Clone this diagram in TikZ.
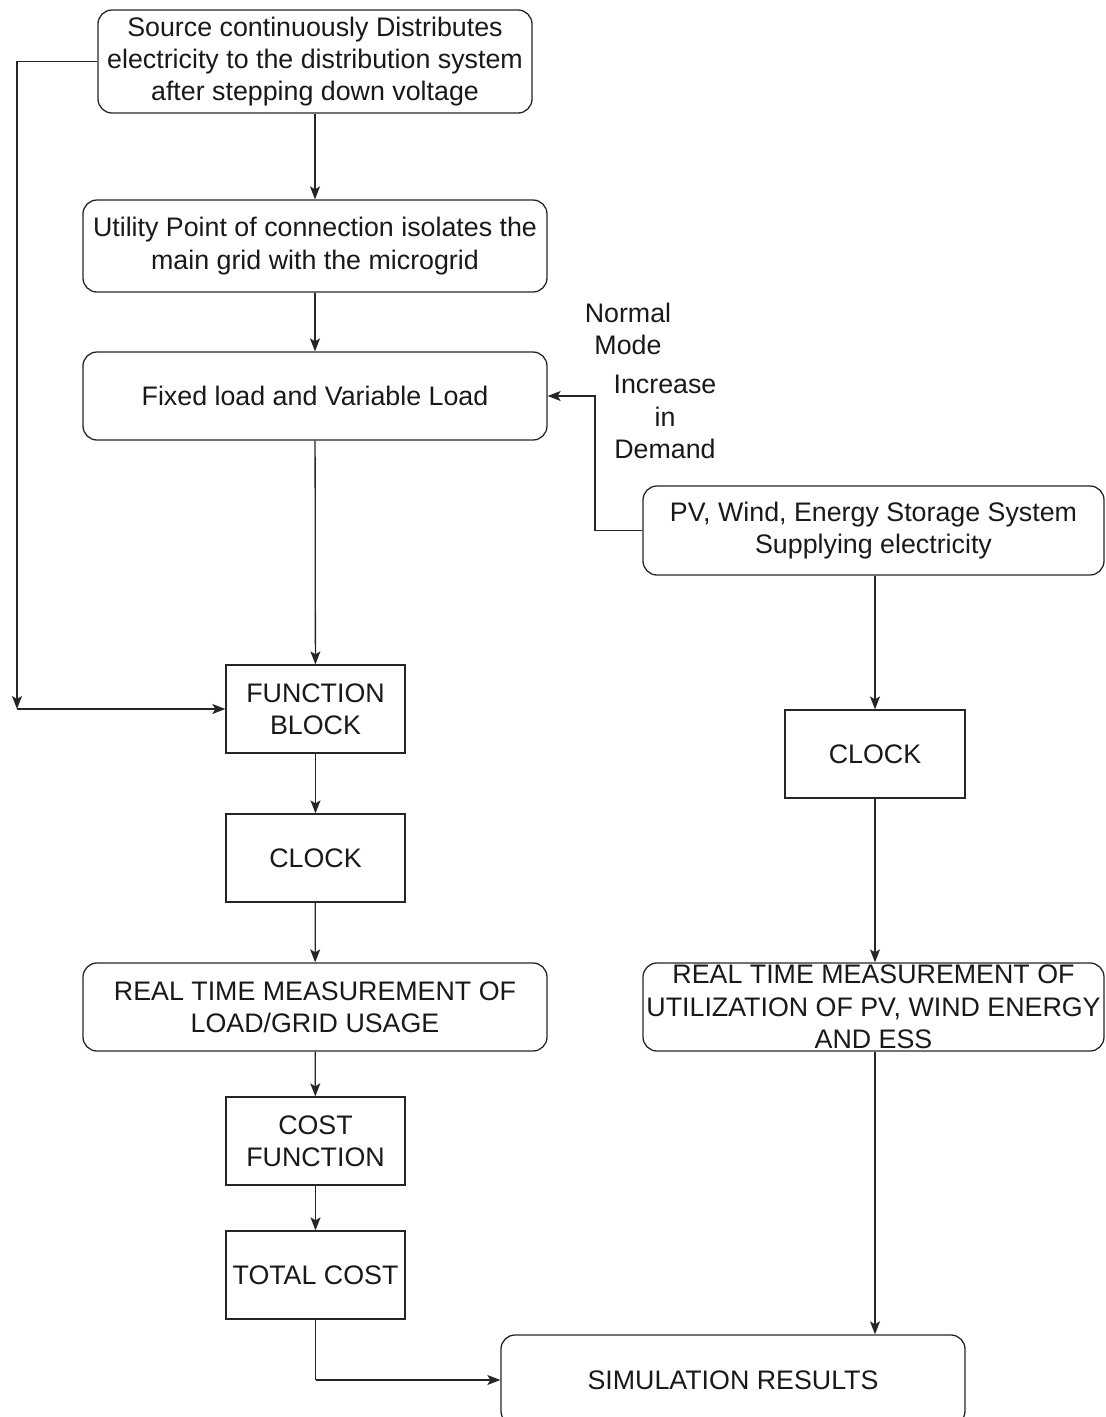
\documentclass[tikz,border=0pt]{standalone}
\usepackage{fontspec}
\setmainfont{Liberation Sans}
\usetikzlibrary{arrows.meta}
\begin{document}
\begin{tikzpicture}[x=1pt,y=-1pt,
  base/.style={draw=black!85, line width=1.3pt, align=center, font=\fontsize{26.8}{32.3}\selectfont, text=black!90, inner sep=0pt},
  rbox/.style={base, rounded corners=14pt},
  sbox/.style={base},
  lbl/.style={align=center, font=\fontsize{26.8}{32.3}\selectfont, text=black!90, inner sep=0pt},
  arr/.style={draw=black!85, line width=1.3pt, -{Stealth[length=13pt,width=10pt,inset=3pt]}},
  ln/.style={draw=black!85, line width=1.3pt}]
\useasboundingbox (0,0) rectangle (1106,1417);

\node[rbox, minimum width=434pt, minimum height=103pt] (src) at (315,61.5) {Source continuously Distributes\\electricity to the distribution system\\after stepping down voltage};
\node[rbox, minimum width=464pt, minimum height=92pt] (upc) at (315,246) {Utility Point of connection isolates the\\main grid with the microgrid};
\node[rbox, minimum width=464pt, minimum height=88pt] (load) at (315,396) {Fixed load and Variable Load};
\node[rbox, minimum width=461pt, minimum height=89pt] (pv) at (873.5,530.5) {PV, Wind, Energy Storage System\\Supplying electricity};
\node[sbox, minimum width=179pt, minimum height=88pt] (fb) at (315.5,709) {FUNCTION\\BLOCK};
\node[sbox, minimum width=179pt, minimum height=88pt] (clk1) at (315.5,858) {CLOCK};
\node[rbox, minimum width=464pt, minimum height=88pt] (rt1) at (315,1007) {REAL TIME MEASUREMENT OF\\LOAD/GRID USAGE};
\node[sbox, minimum width=179pt, minimum height=88pt] (cost) at (315.5,1141) {COST\\FUNCTION};
\node[sbox, minimum width=179pt, minimum height=88pt] (tot) at (315.5,1275) {TOTAL COST};
\node[sbox, minimum width=180pt, minimum height=88pt] (clk2) at (875,754) {CLOCK};
\node[rbox, minimum width=461pt, minimum height=88pt] (rt2) at (873.5,1007) {REAL TIME MEASUREMENT OF\\UTILIZATION OF PV, WIND ENERGY\\AND ESS};
\node[rbox, minimum width=464pt, minimum height=90pt] (sim) at (733,1380) {SIMULATION RESULTS};

\node[lbl] (nm) at (628,329) {Normal\\Mode};
\node[lbl] (inc) at (665,417) {Increase\\in\\Demand};

\coordinate (lc) at (17,709);
\coordinate (pvl) at (595,530.5);
\coordinate (tb) at (315.5,1380);

\draw[arr] (src) -- (upc);
\draw[arr] (upc) -- (load);
\draw[arr] (load) -- (fb);
\draw[arr] (src.west) -| (lc);
\draw[arr] (lc) -- (fb.west);
\draw[arr] (fb) -- (clk1);
\draw[arr] (clk1) -- (rt1);
\draw[arr] (rt1) -- (cost);
\draw[arr] (cost) -- (tot);
\draw[ln] (tot.south) -- (tb);
\draw[arr] (tb) -- (sim.west);
\draw[ln] (pv.west) -- (pvl);
\draw[arr] (pvl) |- (load.east);
\draw[arr] (pv.south -| clk2.north) -- (clk2.north);
\draw[arr] (clk2.south) -- (clk2.south |- rt2.north);
\draw[arr] (clk2.south |- rt2.south) -- (clk2.south |- sim.north);
\end{tikzpicture}
\end{document}
